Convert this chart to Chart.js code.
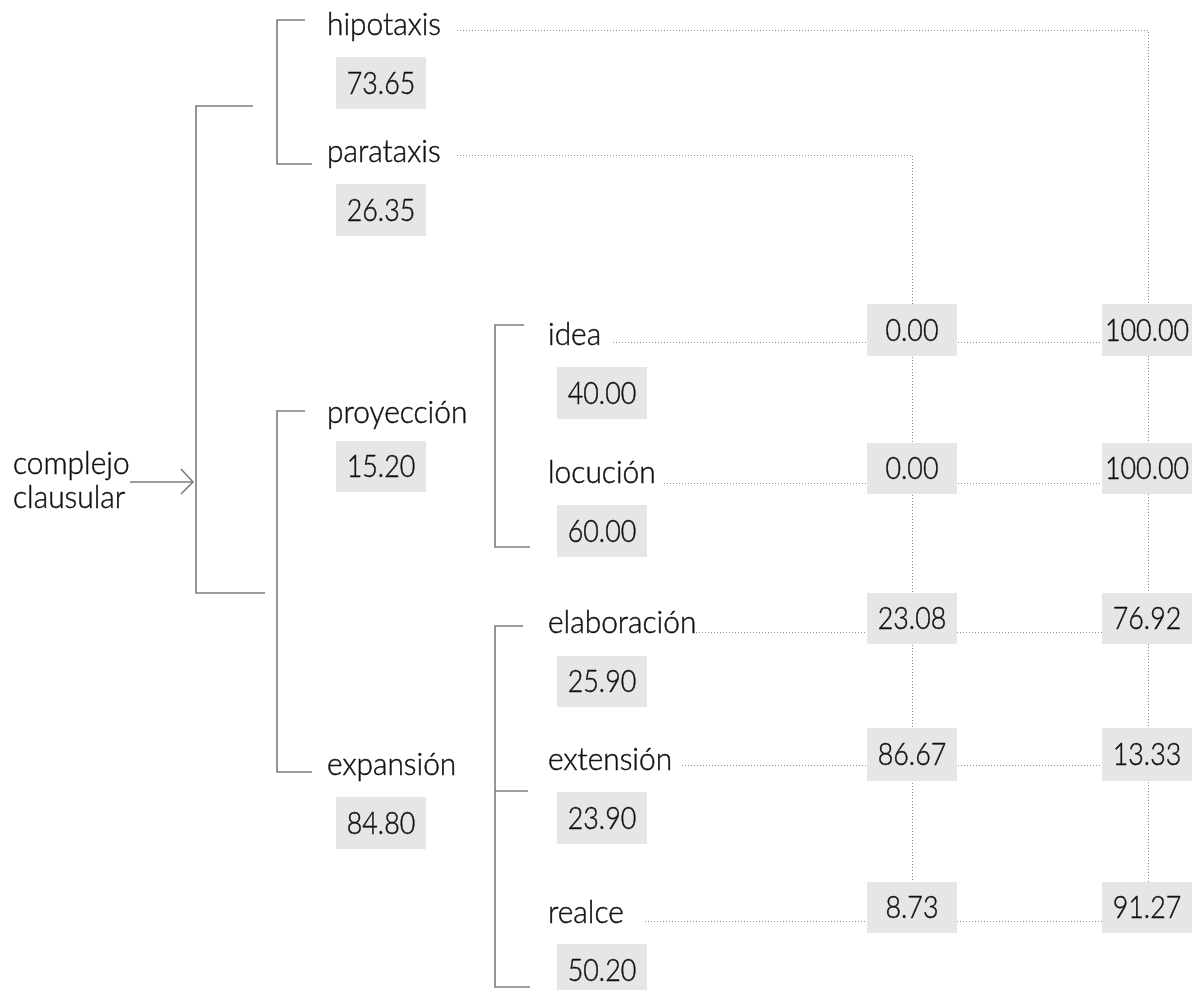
<!DOCTYPE html>
<html>
<head>
<meta charset="utf-8">
<script src="https://cdn.jsdelivr.net/npm/chart.js@4/dist/chart.umd.min.js"></script>
<style>
  html, body { margin: 0; padding: 0; background: #ffffff; }
  #wrap { width: 1197px; height: 990px; }
</style>
</head>
<body>
<div id="wrap"><canvas id="c" width="1197" height="990"></canvas></div>
<script>
// ---------------- DATA ----------------
const rootLabel = ['complejo', 'clausular'];
const taxisTypes = ['hipotaxis', 'parataxis'];
const taxisValues = [73.65, 26.35];
const processTypes = ['proyección', 'expansión'];
const processValues = [15.20, 84.80];
const projectionTypes = ['idea', 'locución'];
const projectionValues = [40.00, 60.00];
const expansionTypes = ['elaboración', 'extensión', 'realce'];
const expansionValues = [25.90, 23.90, 50.20];
// share of each subtype realised paratactically / hypotactically
const paratacticShare = [0.00, 0.00, 23.08, 86.67, 8.73];
const hypotacticShare = [100.00, 100.00, 76.92, 13.33, 91.27];

// ---------------- LAYOUT (diagram geometry in scale units) ----------------
const L = {
  width: 1197, height: 990,
  labelX1: 327, labelX2: 548,
  box1: [336, 426], box2: [557, 647],
  col1: [867, 957], col2: [1102, 1192],
  col1X: 912.5, col2X: 1148.5,
  taxisRows: [
    { base: 35, box: [57, 109], dotY: 30.5, dotX: 457 },
    { base: 162, box: [184, 236], dotY: 155.5, dotX: 457 }
  ],
  processRows: [
    { base: 423, box: [441, 492] },
    { base: 775, box: [797, 849] }
  ],
  subRows: [
    { base: 345, box: [367, 419], col: [304, 356], dotY: 342.5, dotX: 613 },
    { base: 483, box: [505, 557], col: [443, 494], dotY: 483.5, dotX: 664 },
    { base: 633, box: [656, 707], col: [593, 644], dotY: 632.5, dotX: 693 },
    { base: 770, box: [792, 844], col: [728, 781], dotY: 765.5, dotX: 682 },
    { base: 923, box: [944, 996], col: [882, 933], dotY: 921.5, dotX: 645 }
  ],
  rootX: 13, rootBase: [474, 508],
  brackets: [
    [[253, 106], [196, 106], [196, 593], [265, 593]],
    [[305, 20], [277, 20], [277, 164], [312, 164]],
    [[305, 411], [277, 411], [277, 772], [312, 772]],
    [[524, 325], [495, 325], [495, 547], [530, 547]],
    [[523, 626], [495, 626], [495, 987], [530, 987]],
    [[495, 791], [528, 791]],
    [[130, 482], [193, 482]],
    [[181, 469], [193, 482], [181, 494]]
  ]
};

const FONT = '"Lato", "Open Sans", sans-serif';
const LABEL_FONT = '300 30.5px ' + FONT;
const LABEL_SX = 0.98;
const NUM_FONT = '300 30.5px ' + FONT;
const NUM_SX = 0.88;
const TEXT_COLOR = '#111111';
const TEXT_STROKE = 0.45;
const BOX_COLOR = '#e6e6e6';
const LINE_COLOR = '#7c7c7c';
const DOT_COLOR = '#8f8f8f';

const subtypes = projectionTypes.concat(expansionTypes);
const subValues = projectionValues.concat(expansionValues);

// ---------------- DATASETS ----------------
const datasets = [];
L.brackets.forEach(poly => {
  datasets.push({
    data: poly.map(p => ({ x: p[0], y: p[1] })),
    showLine: true, borderColor: LINE_COLOR, borderWidth: 1.6,
    pointRadius: 0, fill: false, tension: 0
  });
});
function dotted(points) {
  datasets.push({
    data: points.map(p => ({ x: p[0], y: p[1] })),
    showLine: true, borderColor: DOT_COLOR, borderWidth: 1,
    borderDash: [1, 2], pointRadius: 0, fill: false, tension: 0,
    borderCapStyle: 'butt'
  });
}
const lastColTop = L.subRows[L.subRows.length - 1].col[0];
// hipotaxis -> hypotactic column, parataxis -> paratactic column
dotted([[L.taxisRows[0].dotX, L.taxisRows[0].dotY], [L.col2X, L.taxisRows[0].dotY], [L.col2X, lastColTop]]);
dotted([[L.taxisRows[1].dotX, L.taxisRows[1].dotY], [L.col1X, L.taxisRows[1].dotY], [L.col1X, lastColTop]]);
L.subRows.forEach(r => dotted([[r.dotX, r.dotY], [L.col2X, r.dotY]]));

// ---------------- PLUGIN: value boxes and labels ----------------
const diagramText = {
  id: 'diagramText',
  afterDatasetsDraw(chart) {
    const ctx = chart.ctx;
    const xs = chart.scales.x, ys = chart.scales.y;
    const px = v => xs.getPixelForValue(v);
    const py = v => ys.getPixelForValue(v);
    function paint(text) {
      ctx.fillStyle = TEXT_COLOR;
      ctx.strokeStyle = TEXT_COLOR;
      ctx.lineWidth = TEXT_STROKE;
      ctx.lineJoin = 'round';
      ctx.fillText(text, 0, 0);
      ctx.strokeText(text, 0, 0);
    }
    function label(text, x, base) {
      ctx.save();
      ctx.translate(px(x), py(base));
      ctx.scale(LABEL_SX, 1);
      ctx.font = LABEL_FONT;
      ctx.textAlign = 'left'; ctx.textBaseline = 'alphabetic';
      paint(text);
      ctx.restore();
    }
    function box(value, xr, yr) {
      const x0 = px(xr[0]), x1 = px(xr[1]), y0 = py(yr[0]), y1 = py(yr[1]);
      ctx.save();
      ctx.fillStyle = BOX_COLOR;
      ctx.fillRect(x0, y0, x1 - x0, y1 - y0);
      ctx.translate((x0 + x1) / 2, (y0 + y1) / 2 + 1);
      ctx.scale(NUM_SX, 1);
      ctx.font = NUM_FONT;
      ctx.textAlign = 'center'; ctx.textBaseline = 'middle';
      paint(value.toFixed(2));
      ctx.restore();
    }
    rootLabel.forEach((t, i) => label(t, L.rootX, L.rootBase[i]));
    taxisTypes.forEach((t, i) => {
      label(t, L.labelX1, L.taxisRows[i].base);
      box(taxisValues[i], L.box1, L.taxisRows[i].box);
    });
    processTypes.forEach((t, i) => {
      label(t, L.labelX1, L.processRows[i].base);
      box(processValues[i], L.box1, L.processRows[i].box);
    });
    subtypes.forEach((t, i) => {
      const r = L.subRows[i];
      label(t, L.labelX2, r.base);
      box(subValues[i], L.box2, r.box);
      box(paratacticShare[i], L.col1, r.col);
      box(hypotacticShare[i], L.col2, r.col);
    });
  }
};

function draw() {
  new Chart(document.getElementById('c'), {
    type: 'scatter',
    data: { datasets },
    options: {
      responsive: false, animation: false, devicePixelRatio: 1,
      layout: { padding: 0 },
      plugins: { legend: { display: false }, tooltip: { enabled: false } },
      scales: {
        x: { type: 'linear', min: 0, max: L.width, display: false },
        y: { type: 'linear', min: 0, max: L.height, reverse: true, display: false }
      }
    },
    plugins: [diagramText]
  });
}
if (document.fonts && document.fonts.load) {
  Promise.all([document.fonts.load(LABEL_FONT), document.fonts.load(NUM_FONT)]).then(draw, draw);
} else { draw(); }
</script>
</body>
</html>
